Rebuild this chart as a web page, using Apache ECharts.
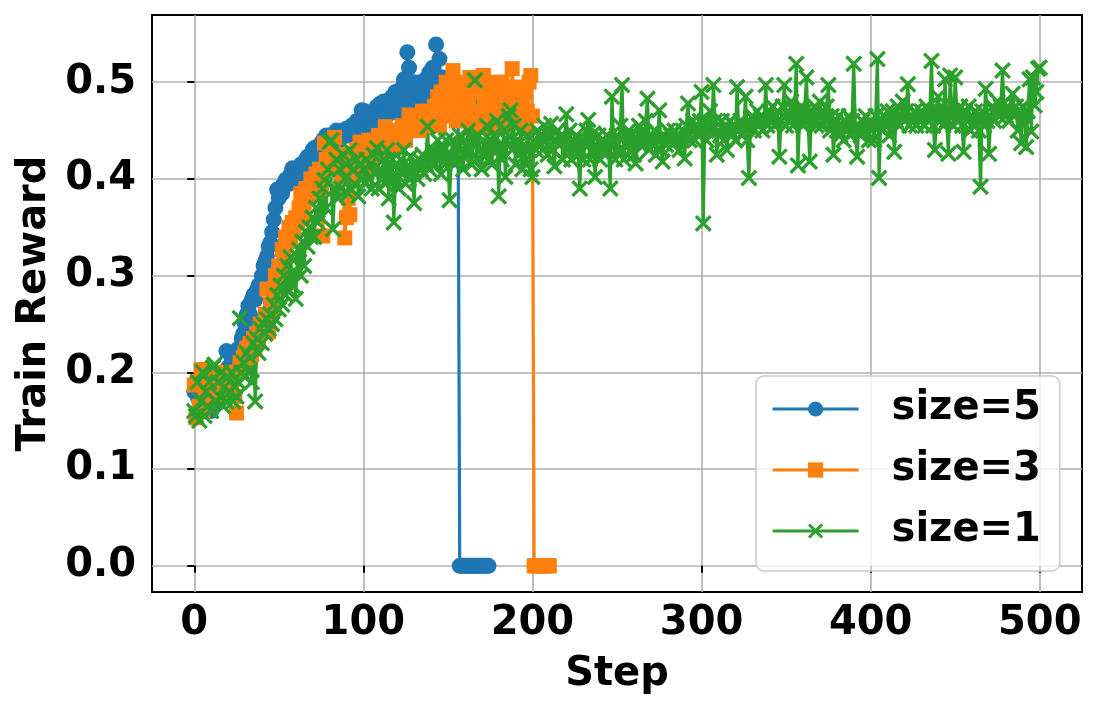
<!DOCTYPE html>
<html>
  <head>
    <meta charset="utf-8" />
    <title>Train Reward</title>
    <script src="https://cdn.jsdelivr.net/npm/echarts@6/dist/echarts.min.js"></script>
  </head>
  <body style="margin: 0">
    <div id="chart" style="width: 1098px; height: 712px"></div>
    <script type="text/javascript">
      // one value per step
      var size5 = [
        0.18, 0.19, 0.175, 0.17, 0.165, 0.17, 0.18, 0.165, 0.17, 0.175,
        0.16, 0.17, 0.165, 0.18, 0.175, 0.185, 0.19, 0.18, 0.2, 0.222,
        0.205, 0.195, 0.21, 0.2, 0.215, 0.223, 0.21, 0.225, 0.235, 0.24,
        0.25, 0.26, 0.269, 0.26, 0.275, 0.28, 0.275, 0.285, 0.29, 0.29,
        0.3, 0.31, 0.315, 0.32, 0.33, 0.334, 0.345, 0.358, 0.37, 0.389,
        0.38, 0.39, 0.385, 0.395, 0.399, 0.4, 0.395, 0.405, 0.411, 0.41,
        0.4, 0.405, 0.41, 0.415, 0.405, 0.415, 0.42, 0.423, 0.415, 0.425,
        0.43, 0.432, 0.425, 0.43, 0.435, 0.43, 0.44, 0.435, 0.445, 0.44,
        0.445, 0.44, 0.445, 0.44, 0.45, 0.445, 0.44, 0.445, 0.45, 0.445,
        0.452, 0.445, 0.45, 0.455, 0.45, 0.455, 0.46, 0.455, 0.46, 0.471,
        0.455, 0.47, 0.45, 0.465, 0.455, 0.457, 0.47, 0.455, 0.475, 0.46,
        0.478, 0.462, 0.48, 0.465, 0.479, 0.481, 0.468, 0.485, 0.47, 0.49,
        0.475, 0.49, 0.47, 0.495, 0.503, 0.48, 0.531, 0.515, 0.495, 0.475,
        0.5, 0.48, 0.493, 0.47, 0.5, 0.485, 0.502, 0.475, 0.495, 0.51,
        0.48, 0.515, 0.49, 0.539, 0.5, 0.524, 0.49, 0.505, 0.475, 0.5,
        0.485, 0.505, 0.47, 0.495, 0.48, 0.5, 0.47, 0, 0, 0,
        0, 0, 0, 0, 0, 0, 0, 0, 0, 0,
        0, 0, 0, 0, 0
      ];
      var size3 = [
        0.187, 0.153, 0.19, 0.165, 0.203, 0.16, 0.185, 0.175, 0.195, 0.17,
        0.18, 0.19, 0.175, 0.185, 0.195, 0.18, 0.19, 0.2, 0.185, 0.195,
        0.19, 0.2, 0.185, 0.195, 0.175, 0.158, 0.2, 0.21, 0.205, 0.215,
        0.22, 0.225, 0.215, 0.23, 0.218, 0.235, 0.225, 0.24, 0.232, 0.25,
        0.245, 0.247, 0.26, 0.286, 0.242, 0.27, 0.265, 0.278, 0.3, 0.29,
        0.31, 0.305, 0.327, 0.32, 0.34, 0.335, 0.35, 0.34, 0.355, 0.345,
        0.36, 0.355, 0.37, 0.385, 0.36, 0.375, 0.39, 0.38, 0.385, 0.4,
        0.39, 0.395, 0.405, 0.4, 0.41, 0.39, 0.341, 0.437, 0.42, 0.41,
        0.425, 0.415, 0.43, 0.443, 0.42, 0.41, 0.425, 0.4, 0.415, 0.339,
        0.36, 0.38, 0.363, 0.4, 0.42, 0.41, 0.43, 0.415, 0.438, 0.42,
        0.43, 0.425, 0.413, 0.44, 0.43, 0.42, 0.435, 0.44, 0.425, 0.445,
        0.43, 0.44, 0.435, 0.454, 0.44, 0.43, 0.445, 0.44, 0.45, 0.435,
        0.445, 0.44, 0.45, 0.455, 0.445, 0.44, 0.45, 0.466, 0.455, 0.45,
        0.46, 0.455, 0.465, 0.45, 0.46, 0.47, 0.455, 0.465, 0.46, 0.47,
        0.465, 0.455, 0.475, 0.46, 0.485, 0.455, 0.49, 0.465, 0.48, 0.5,
        0.495, 0.47, 0.49, 0.512, 0.475, 0.46, 0.49, 0.465, 0.5, 0.47,
        0.498, 0.46, 0.485, 0.505, 0.465, 0.49, 0.455, 0.5, 0.47, 0.49,
        0.46, 0.507, 0.47, 0.49, 0.455, 0.495, 0.465, 0.485, 0.5, 0.46,
        0.49, 0.47, 0.5, 0.455, 0.485, 0.47, 0.495, 0.46, 0.514, 0.475,
        0.49, 0.46, 0.495, 0.47, 0.485, 0.455, 0.49, 0.47, 0.5, 0.507,
        0.465, 0, 0, 0, 0, 0, 0, 0, 0, 0,
        0
      ];
      var size1 = [
        0.16, 0.155, 0.19, 0.15, 0.17, 0.2, 0.155, 0.18, 0.165, 0.19,
        0.16, 0.205, 0.208, 0.17, 0.19, 0.175, 0.2, 0.165, 0.185, 0.17,
        0.195, 0.18, 0.2, 0.17, 0.185, 0.175, 0.19, 0.256, 0.2, 0.21,
        0.195, 0.22, 0.2, 0.215, 0.19, 0.23, 0.17, 0.235, 0.22, 0.245,
        0.23, 0.25, 0.24, 0.255, 0.245, 0.26, 0.25, 0.27, 0.255, 0.28,
        0.265, 0.29, 0.27, 0.3, 0.28, 0.31, 0.285, 0.319, 0.29, 0.305,
        0.276, 0.32, 0.327, 0.3, 0.335, 0.31, 0.345, 0.33, 0.35, 0.34,
        0.36, 0.34, 0.37, 0.355, 0.38, 0.36, 0.39, 0.399, 0.37, 0.41,
        0.438, 0.44, 0.348, 0.39, 0.42, 0.38, 0.41, 0.39, 0.425, 0.4,
        0.415, 0.385, 0.43, 0.389, 0.41, 0.395, 0.42, 0.382, 0.415, 0.4,
        0.41, 0.395, 0.42, 0.4, 0.415, 0.39, 0.425, 0.405, 0.432, 0.39,
        0.41, 0.4, 0.42, 0.395, 0.43, 0.38, 0.41, 0.42, 0.355, 0.4,
        0.415, 0.39, 0.42, 0.405, 0.43, 0.395, 0.41, 0.4, 0.423, 0.41,
        0.375, 0.415, 0.4, 0.42, 0.41, 0.425, 0.405, 0.415, 0.454, 0.41,
        0.42, 0.43, 0.415, 0.425, 0.44, 0.42, 0.405, 0.43, 0.415, 0.44,
        0.42, 0.378, 0.425, 0.44, 0.415, 0.435, 0.42, 0.445, 0.43, 0.41,
        0.44, 0.425, 0.45, 0.43, 0.415, 0.44, 0.502, 0.42, 0.445, 0.43,
        0.41, 0.44, 0.425, 0.455, 0.42, 0.44, 0.415, 0.445, 0.43, 0.46,
        0.382, 0.435, 0.42, 0.45, 0.402, 0.44, 0.465, 0.471, 0.43, 0.455,
        0.415, 0.44, 0.425, 0.45, 0.41, 0.435, 0.42, 0.445, 0.43, 0.41,
        0.402, 0.44, 0.43, 0.45, 0.435, 0.445, 0.43, 0.455, 0.44, 0.425,
        0.445, 0.457, 0.43, 0.413, 0.44, 0.45, 0.435, 0.445, 0.42, 0.44,
        0.467, 0.43, 0.45, 0.42, 0.44, 0.43, 0.445, 0.425, 0.39, 0.44,
        0.42, 0.435, 0.45, 0.461, 0.42, 0.44, 0.447, 0.402, 0.43, 0.445,
        0.42, 0.435, 0.44, 0.425, 0.445, 0.43, 0.39, 0.485, 0.44, 0.42,
        0.445, 0.43, 0.455, 0.497, 0.42, 0.445, 0.435, 0.45, 0.43, 0.445,
        0.425, 0.416, 0.44, 0.455, 0.435, 0.45, 0.44, 0.46, 0.483, 0.43,
        0.445, 0.435, 0.45, 0.425, 0.44, 0.471, 0.43, 0.418, 0.445, 0.435,
        0.45, 0.44, 0.445, 0.435, 0.45, 0.44, 0.445, 0.43, 0.44, 0.45,
        0.421, 0.455, 0.478, 0.44, 0.45, 0.46, 0.44, 0.455, 0.445, 0.46,
        0.49, 0.354, 0.46, 0.44, 0.455, 0.47, 0.45, 0.497, 0.46, 0.425,
        0.45, 0.445, 0.46, 0.44, 0.455, 0.43, 0.45, 0.46, 0.445, 0.455,
        0.44, 0.495, 0.45, 0.46, 0.445, 0.455, 0.485, 0.44, 0.401, 0.455,
        0.465, 0.45, 0.46, 0.47, 0.455, 0.465, 0.45, 0.46, 0.497, 0.455,
        0.47, 0.46, 0.475, 0.455, 0.465, 0.47, 0.423, 0.46, 0.475, 0.497,
        0.455, 0.47, 0.46, 0.48, 0.455, 0.47, 0.519, 0.414, 0.465, 0.475,
        0.455, 0.47, 0.505, 0.46, 0.418, 0.47, 0.46, 0.475, 0.455, 0.465,
        0.48, 0.455, 0.47, 0.46, 0.475, 0.497, 0.45, 0.465, 0.425, 0.46,
        0.45, 0.465, 0.445, 0.455, 0.44, 0.46, 0.45, 0.465, 0.445, 0.46,
        0.519, 0.45, 0.423, 0.455, 0.445, 0.46, 0.45, 0.465, 0.455, 0.44,
        0.46, 0.455, 0.44, 0.465, 0.524, 0.401, 0.46, 0.45, 0.465, 0.455,
        0.47, 0.445, 0.46, 0.47, 0.428, 0.46, 0.475, 0.455, 0.465, 0.48,
        0.46, 0.47, 0.498, 0.455, 0.465, 0.46, 0.47, 0.455, 0.465, 0.46,
        0.47, 0.465, 0.455, 0.475, 0.46, 0.47, 0.522, 0.455, 0.43, 0.47,
        0.485, 0.46, 0.475, 0.455, 0.503, 0.46, 0.426, 0.507, 0.47, 0.455,
        0.505, 0.47, 0.46, 0.475, 0.455, 0.428, 0.47, 0.46, 0.475, 0.45,
        0.465, 0.455, 0.47, 0.46, 0.45, 0.392, 0.47, 0.455, 0.493, 0.46,
        0.426, 0.465, 0.475, 0.46, 0.47, 0.48, 0.465, 0.475, 0.512, 0.47,
        0.465, 0.475, 0.46, 0.47, 0.488, 0.465, 0.475, 0.45, 0.47, 0.437,
        0.475, 0.465, 0.433, 0.47, 0.503, 0.449, 0.505, 0.476, 0.49, 0.514,
        0.515
      ];
      var stepTicks = [0, 100, 200, 300, 400, 500];
      var rewardTicks = [0, 0.1, 0.2, 0.3, 0.4, 0.5];

      var xMark = "path://M1.4,0 L5,3.6 L8.6,0 L10,1.4 L6.4,5 L10,8.6 L8.6,10 L5,6.4 L1.4,10 L0,8.6 L3.6,5 L0,1.4 Z";
      var font = "DejaVu Sans";

      function toPoints(arr) {
        return arr.map(function (v, i) {
          return [i, v];
        });
      }

      function lineSeries(name, arr, color, symbol, symbolSize) {
        return {
          name: name,
          type: "line",
          data: toPoints(arr),
          symbol: symbol,
          symbolSize: symbolSize,
          showAllSymbol: true,
          lineStyle: { color: color, width: 3.2 },
          itemStyle: { color: color, borderWidth: 0 },
          emphasis: { disabled: true },
        };
      }

      var chart = echarts.init(document.getElementById("chart"));
      var option = {
        animation: false,
        grid: {
          left: 152,
          right: 16,
          top: 15,
          bottom: 120,
          show: true,
          borderColor: "#000",
          borderWidth: 2,
          outerBoundsMode: "none",
        },
        legend: {
          orient: "vertical",
          left: 756,
          top: 376,
          padding: [13, 19, 20, 15],
          itemWidth: 86,
          itemHeight: 19,
          itemGap: 21,
          lineStyle: { width: 3.2 },
          backgroundColor: "rgba(255,255,255,0.8)",
          borderColor: "#cccccc",
          borderWidth: 1.5,
          borderRadius: 8,
          textStyle: {
            fontFamily: font,
            fontWeight: "bold",
            fontSize: 40,
            lineHeight: 40,
            color: "#000",
            padding: [0, 0, 0, 28],
          },
          data: ["size=5", "size=3", "size=1"],
        },
        xAxis: {
          type: "value",
          min: -25,
          max: 525,
          name: "Step",
          nameLocation: "middle",
          nameGap: 63,
          nameTextStyle: { fontFamily: font, fontWeight: "bold", fontSize: 40, color: "#000" },
          axisLine: { show: false },
          axisTick: { show: true, length: 7, lineStyle: { color: "#000", width: 2 }, customValues: stepTicks },
          axisLabel: {
            customValues: stepTicks,
            margin: 12,
            fontFamily: font,
            fontWeight: "bold",
            fontSize: 40,
            lineHeight: 40,
            color: "#000",
          },
          splitLine: { show: true, lineStyle: { color: "#b0b0b0", width: 1.6 } },
        },
        yAxis: {
          type: "value",
          min: -0.0271,
          max: 0.5695,
          name: "Train Reward",
          nameLocation: "middle",
          nameGap: 91,
          nameTextStyle: { fontFamily: font, fontWeight: "bold", fontSize: 40, color: "#000" },
          axisLine: { show: false },
          axisTick: { show: true, length: 7, lineStyle: { color: "#000", width: 2 }, customValues: rewardTicks },
          axisLabel: {
            customValues: rewardTicks,
            margin: 16,
            fontFamily: font,
            fontWeight: "bold",
            fontSize: 40,
            color: "#000",
            formatter: function (v) {
              return v.toFixed(1);
            },
          },
          splitLine: { show: true, lineStyle: { color: "#b0b0b0", width: 1.6 } },
        },
        series: [
          lineSeries("size=5", size5, "#1f77b4", "circle", 16),
          lineSeries("size=3", size3, "#ff7f0e", "rect", 15),
          lineSeries("size=1", size1, "#2ca02c", xMark, 17),
        ],
      };
      chart.setOption(option);
    </script>
  </body>
</html>
